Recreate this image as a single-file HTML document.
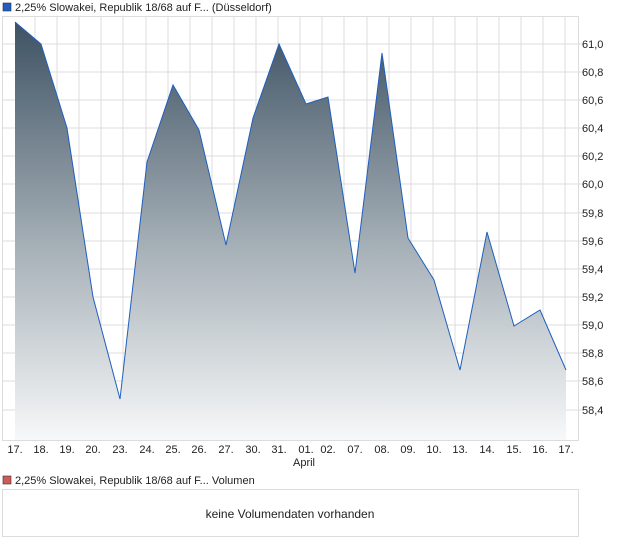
<!DOCTYPE html>
<html><head><style>
body{margin:0;width:620px;height:546px;background:#fff;font-family:"Liberation Sans",sans-serif;overflow:hidden}
</style></head><body>
<svg width="620" height="546" xmlns="http://www.w3.org/2000/svg" font-family="Liberation Sans, sans-serif" font-size="11" fill="#222">
<defs><linearGradient id="g" x1="0" y1="22" x2="0" y2="440" gradientUnits="userSpaceOnUse">
<stop offset="0" stop-color="#3e5263"/><stop offset="0.55" stop-color="#a8b2b9"/><stop offset="1" stop-color="#f7f8f9"/></linearGradient></defs>
<rect x="3" y="3" width="8" height="8" fill="#1f5fbf" stroke="#333" stroke-width="0.6"/>
<text x="15" y="11">2,25% Slowakei, Republik 18/68 auf F... (Düsseldorf)</text>
<g stroke="#dcdcdc" stroke-width="1">
<rect x="2.5" y="16.5" width="576" height="424" fill="none"/>
<path d="M35 17V440M57 17V440M79 17V440M101 17V440M123 17V440M146 17V440M168 17V440M190 17V440M212 17V440M234 17V440M256 17V440M278 17V440M300 17V440M322 17V440M344 17V440M367 17V440M389 17V440M411 17V440M433 17V440M455 17V440M477 17V440M499 17V440M521 17V440M543 17V440M565 17V440"/>
<path d="M3 44H584M3 72H584M3 100H584M3 128H584M3 156H584M3 184H584M3 213H584M3 241H584M3 269H584M3 297H584M3 325H584M3 353H584M3 381H584M3 410H584"/>
</g>
<path d="M15 22L41 44L67 128L93 297L120 399L147 162L173 85L199 130L226 245L253 118L279 44L306 104L328 97L355 273L382 53L408 238L434 280L460 370L487 232L514 326L540 310L566 370L566 440L15 440Z" fill="url(#g)"/>
<path d="M15 22L41 44L67 128L93 297L120 399L147 162L173 85L199 130L226 245L253 118L279 44L306 104L328 97L355 273L382 53L408 238L434 280L460 370L487 232L514 326L540 310L566 370" fill="none" stroke="#1f5fbf" stroke-width="1"/>
<g text-anchor="start">
<text x="582" y="48">61,0</text><text x="582" y="76">60,8</text><text x="582" y="104">60,6</text><text x="582" y="132">60,4</text><text x="582" y="160">60,2</text><text x="582" y="188">60,0</text><text x="582" y="217">59,8</text><text x="582" y="245">59,6</text><text x="582" y="273">59,4</text><text x="582" y="301">59,2</text><text x="582" y="329">59,0</text><text x="582" y="357">58,8</text><text x="582" y="385">58,6</text><text x="582" y="414">58,4</text>
</g>
<g text-anchor="middle">
<text x="15" y="453">17.</text><text x="41" y="453">18.</text><text x="67" y="453">19.</text><text x="93" y="453">20.</text><text x="120" y="453">23.</text><text x="147" y="453">24.</text><text x="173" y="453">25.</text><text x="199" y="453">26.</text><text x="226" y="453">27.</text><text x="253" y="453">30.</text><text x="279" y="453">31.</text><text x="306" y="453">01.</text><text x="328" y="453">02.</text><text x="355" y="453">07.</text><text x="382" y="453">08.</text><text x="408" y="453">09.</text><text x="434" y="453">10.</text><text x="460" y="453">13.</text><text x="487" y="453">14.</text><text x="514" y="453">15.</text><text x="540" y="453">16.</text><text x="566" y="453">17.</text>
<text x="304" y="466">April</text>
</g>
<rect x="3" y="476" width="8" height="8" fill="#d05a5a" stroke="#333" stroke-width="0.6"/>
<text x="15" y="484">2,25% Slowakei, Republik 18/68 auf F... Volumen</text>
<rect x="2.5" y="489.5" width="576" height="47" fill="none" stroke="#dcdcdc"/>
<text x="290" y="518" text-anchor="middle" font-size="12">keine Volumendaten vorhanden</text>
</svg>
</body></html>
